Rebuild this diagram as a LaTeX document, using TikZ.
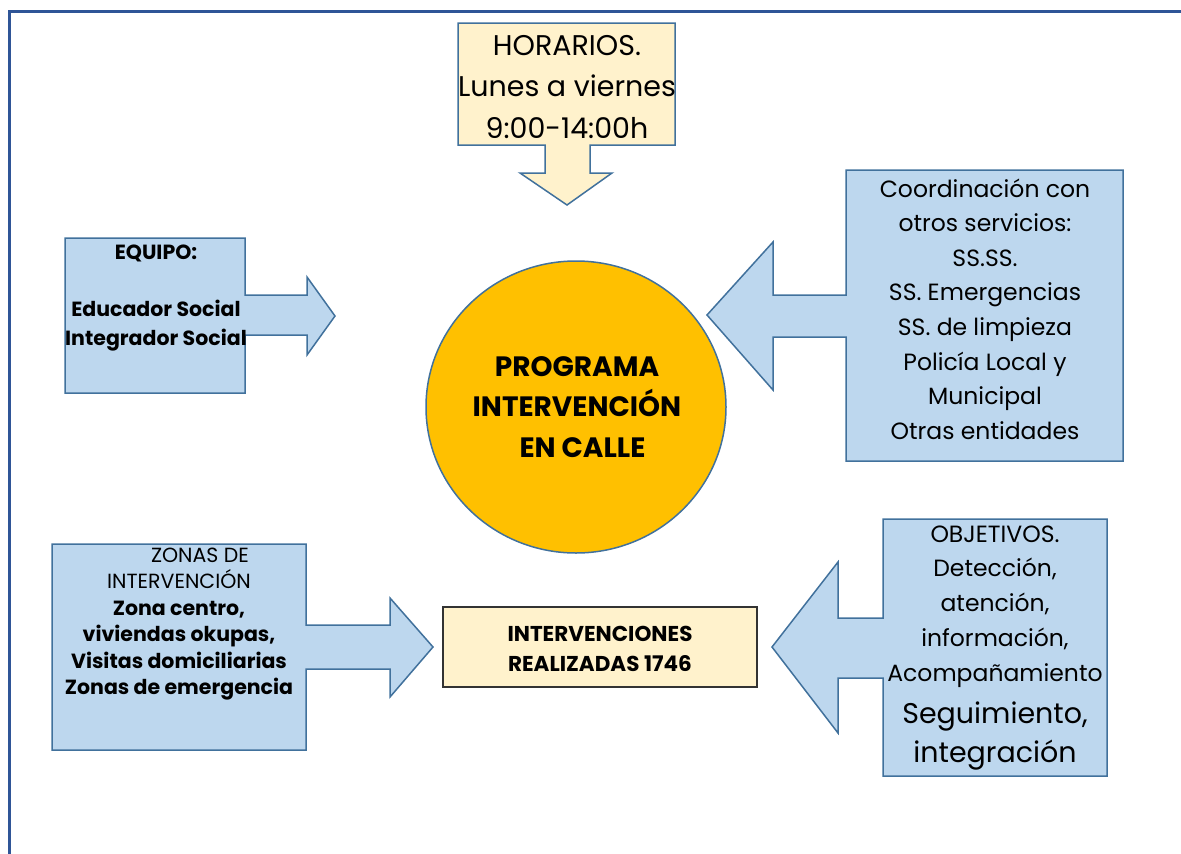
\documentclass[tikz,border=0pt]{standalone}
\usepackage{fontspec}
\setmainfont{Poppins}
\usetikzlibrary{shapes.geometric}
\definecolor{lblue}{HTML}{BDD7EE}
\definecolor{bline}{HTML}{41719C}
\definecolor{frame}{HTML}{2F5597}
\definecolor{lyellow}{HTML}{FFF2CC}
\definecolor{gold}{HTML}{FFC000}
\tikzset{
  callout/.style={draw=bline, line width=1.5pt, fill=lblue, line join=miter},
  ycallout/.style={draw=bline, line width=1.5pt, fill=lyellow, line join=miter},
  txt/.style={inner sep=0pt, align=center, text=black},
}
\newcommand{\fs}[2]{\fontsize{#1}{#2}\selectfont}
\begin{document}
\begin{tikzpicture}[x=1pt,y=-1pt]
\useasboundingbox (0,0) rectangle (1181,854);
% page frame
\coordinate (fa) at (9,854);
\coordinate (fb) at (9,11);
\coordinate (fc) at (1181,11);
\draw[frame, line width=3pt] (fa) -- (fb) -- (fc);
% HORARIOS down arrow callout
\draw[ycallout] (458,23) -- (675,23) -- (675,145) -- (590,145) -- (590,173) -- (612,173) -- (567,205) -- (520,173) -- (545,173) -- (545,145) -- (458,145) -- cycle;
\node[txt, font=\fs{28.5}{41.5}] (horarios) at (567,87) {HORARIOS.\\Lunes a viernes\\9:00-14:00h};
% EQUIPO right arrow callout
\draw[callout] (65,238) -- (245,238) -- (245,295) -- (307,295) -- (307,277) -- (335,316) -- (307,355) -- (307,335) -- (245,335) -- (245,393) -- (65,393) -- cycle;
\node[txt, font=\fs{20.5}{28.7}\bfseries] (equipo) at (156,298) {EQUIPO:\\[0pt]\mbox{}\\Educador Social\\Integrador Social};
% Coordination left arrow callout
\draw[callout] (846,170) -- (1123,170) -- (1123,461) -- (846,461) -- (846,337) -- (773,337) -- (773,390) -- (707,315) -- (773,242) -- (773,295) -- (846,295) -- cycle;
\node[txt, font=\fs{23.5}{34.6}] (coord) at (985,309) {Coordinación con\\otros servicios:\\SS.SS.\\SS. Emergencias\\SS. de limpieza\\Policía Local y\\Municipal\\Otras entidades};
% central circle
\node[draw=bline, line width=1.5pt, fill=gold, ellipse, minimum width=300pt, minimum height=292pt, inner sep=0pt] (circ) at (576,407) {};
\node[txt, font=\fs{28}{40.5}\bfseries] (prog) at (577,407) {PROGRAMA\\INTERVENCIÓN\\\hspace*{11pt}EN CALLE};
% INTERVENCIONES box
\node[draw=black!80, line width=1.5pt, fill=lyellow, minimum width=314pt, minimum height=80pt, inner sep=0pt] (interv) at (600,647) {};
\node[txt, font=\fs{21.5}{30}\bfseries] (intervt) at (600,649) {INTERVENCIONES\\REALIZADAS 1746};
% ZONAS right arrow callout
\draw[callout] (52,544) -- (306,544) -- (306,625) -- (390,625) -- (390,598) -- (433,647) -- (390,697) -- (390,669) -- (306,669) -- (306,750) -- (52,750) -- cycle;
\node[txt, font=\fs{20.5}{26.4}] (zonas) at (179,624) {\hspace*{42pt}ZONAS DE\\INTERVENCIÓN\\\bfseries Zona centro,\\\bfseries viviendas okupas,\\\bfseries Visitas domiciliarias\\\bfseries Zonas de emergencia};
% OBJETIVOS left arrow callout
\draw[callout] (883,519) -- (1107,519) -- (1107,776) -- (883,776) -- (883,678) -- (838,678) -- (838,733) -- (772,647) -- (838,562) -- (838,618) -- (883,618) -- cycle;
\node[txt, font=\fs{23.5}{34.75}] (objA) at (995,606.5) {OBJETIVOS.\\Detección,\\atención,\\información,\\Acompañamiento};
\node[txt, font=\fs{28.5}{39}] (objB) at (995,735.5) {Seguimiento,\\integración};
\end{tikzpicture}
\end{document}
